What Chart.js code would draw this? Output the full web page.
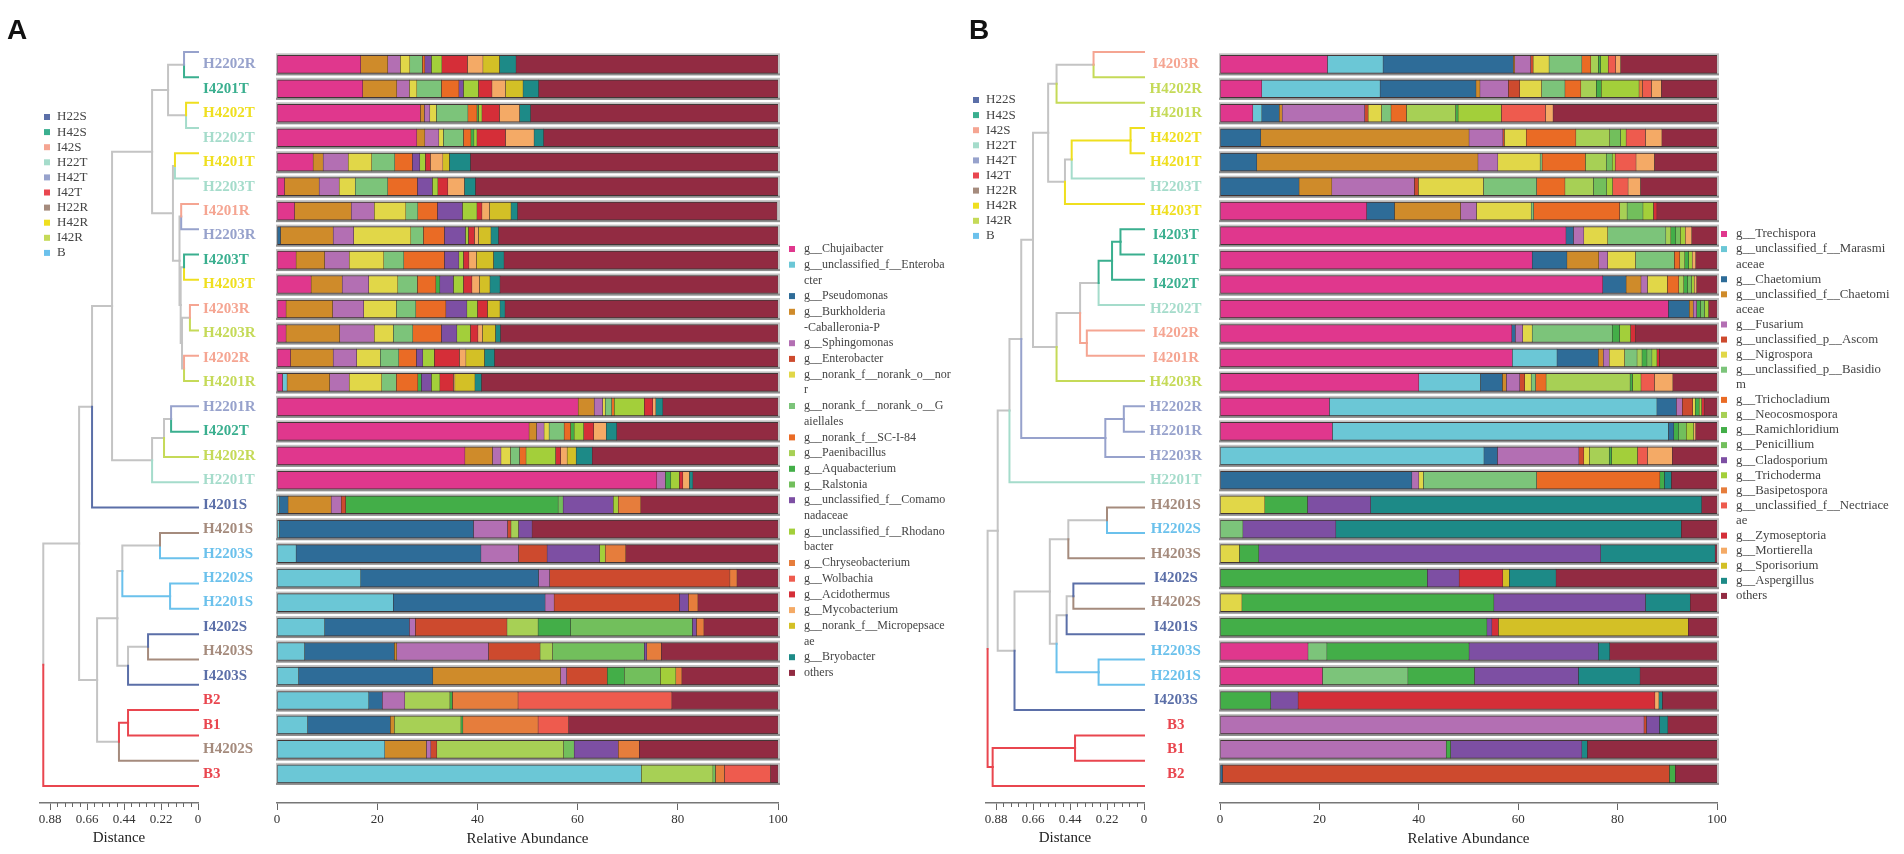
<!DOCTYPE html>
<html><head><meta charset="utf-8">
<script src="https://cdn.jsdelivr.net/npm/chart.js@4.4.1/dist/chart.umd.min.js"></script>
<style>
html,body{margin:0;padding:0;background:#fff;width:1904px;height:854px;overflow:hidden}
.box{position:absolute;top:0;height:854px}
canvas{display:block}
</style></head><body>
<div class="box" style="left:0px;width:206px"><canvas id="cdA"></canvas></div>
<div class="box" style="left:946px;width:206px"><canvas id="cdB"></canvas></div>
<div class="box" style="left:203px;width:762px"><canvas id="cbA"></canvas></div>
<div class="box" style="left:1140px;width:764px"><canvas id="cbB"></canvas></div>
<script>
// ---------------- colours ----------------
const GRAY = '#c4c4c4';
const C_lav='#97a2cc', C_teal='#3aaf8f', C_yel='#efdf1f', C_mint='#a5dccb', C_sal='#f5a592',
      C_yg='#c5da58', C_slate='#5b6fa8', C_taupe='#a58b7d', C_lblue='#6bc1ec', C_red='#e9464f';

// group legend
const groupNames  = ['H22S','H42S','I42S','H22T','H42T','I42T','H22R','H42R','I42R','B'];
const groupColors = [C_slate,C_teal,C_sal,C_mint,C_lav,C_red,C_taupe,C_yel,C_yg,C_lblue];

// genus colours (same palette in both panels)
const genusColors = ['#e0378d','#6bc7d6','#2e6c98','#cf8b2a','#b36fb3','#cd4a2e','#e1d748','#7cc47a',
  '#ea6b25','#a7d055','#43ae48','#72bf5c','#7d4fa3','#a3cf3a','#e67d3c','#ee5b4e','#d52e38',
  '#f4aa66','#d3c026','#1d8a87','#922b42'];

// ---------------- Panel A ----------------
const A_samples = ['H2202R','I4201T','H4202T','H2202T','H4201T','H2203T','I4201R','H2203R','I4203T','H4203T',
  'I4203R','H4203R','I4202R','H4201R','H2201R','I4202T','H4202R','H2201T','I4201S','H4201S','H2203S','H2202S',
  'H2201S','I4202S','H4203S','I4203S','B2','B1','H4202S','B3'];
const A_labelColors = [C_lav,C_teal,C_yel,C_mint,C_yel,C_mint,C_sal,C_lav,C_teal,C_yel,C_sal,C_yg,C_sal,C_yg,
  C_lav,C_teal,C_yg,C_mint,C_slate,C_taupe,C_lblue,C_lblue,C_lblue,C_slate,C_taupe,C_slate,C_red,C_red,C_taupe,C_red];
const A_genera = ['g__Chujaibacter','g__unclassified_f__Enteroba\ncter','g__Pseudomonas','g__Burkholderia\n-Caballeronia-P',
  'g__Sphingomonas','g__Enterobacter','g__norank_f__norank_o__nor\nr','g__norank_f__norank_o__G\naiellales',
  'g__norank_f__SC-I-84','g__Paenibacillus','g__Aquabacterium','g__Ralstonia','g__unclassified_f__Comamo\nnadaceae',
  'g__unclassified_f__Rhodano\nbacter','g__Chryseobacterium','g__Wolbachia','g__Acidothermus','g__Mycobacterium',
  'g__norank_f__Micropepsace\nae','g__Bryobacter','others'];
// tree merges: [node, childA, childB, distance]
const A_merges = [
  ['a1','H2202R','I4201T',0.083],['a2','H4202T','H2202T',0.071],['a3','a1','a2',0.178],
  ['a4','H4201T','H2203T',0.137],['a5','I4201R','H2203R',0.100],['a6','I4203T','H4203T',0.083],
  ['a7','I4203R','H4203R',0.048],['a8','I4202R','H4201R',0.083],['a9','a7','a8',0.095],
  ['a10','a6','a9',0.103],['a11','a5','a10',0.110],['a12','a4','a11',0.149],['a13','a3','a12',0.273],
  ['a14','H2201R','I4202T',0.160],['a15','a14','H4202R',0.202],['a16','a15','H2201T',0.273],
  ['a17','a13','a16',0.511],['a18','a17','I4201S',0.630],['a19','H4201S','H2203S',0.226],
  ['a20','H2202S','H2201S',0.166],['a21','a19','a20',0.450],['a22','I4202S','H4203S',0.297],
  ['a23','a22','I4203S',0.416],['a24','a21','a23',0.480],['a25','B2','B1',0.416],['a26','a25','H4202S',0.470],
  ['a27','a24','a26',0.600],['a28','a18','a27',0.707],['a29','a28','B3',0.920]];
// relative abundance per sample, in genus order above
const A_H2202R=[16.7,0,0,5.4,2.5,0,1.9,2.5,0.5,0,0,0,1.3,2.1,0,0,5.1,3.1,3.3,3.3,52.3];
const A_I4201T=[17.1,0,0,6.8,2.5,0,1.5,4.9,3.5,0,0,0,0.9,3.0,0,0,2.7,2.7,3.5,3.1,47.8];
const A_H4202T=[28.6,0,0,0.8,1.1,0,1.3,6.3,1.8,0,0.3,0,0,0.7,0,0,3.5,4.0,0,2.2,49.4];
const A_H2202T=[27.9,0,0,1.6,2.8,0,0.9,4.0,1.5,0,0.6,0,0,0.6,0,0,5.7,5.7,0,1.9,46.8];
const A_H4201T=[7.2,0,0,2.0,5.0,0,4.7,4.6,3.5,0,0,0,1.5,1.1,0,0,1.0,2.5,1.3,4.2,61.4];
const A_H2203T=[1.5,0,0,6.9,4.0,0,3.2,6.5,5.9,0,0,0,3.0,1.1,0,0,2.0,3.3,0,2.2,60.4];
const A_I4201R=[3.5,0,0,11.3,4.6,0,6.3,2.4,3.9,0,0,0,5.0,2.9,0,0,1.0,1.5,4.3,1.3,51.8];
const A_H2203R=[0,0,0.7,10.5,4.1,0,11.4,2.5,4.2,0,0,0,4.2,0.6,0,0,1.2,0.8,2.5,1.5,55.8];
const A_I4203T=[3.8,0,0,5.7,4.9,0,6.9,4.0,8.1,0,0,0,2.9,0.9,0,0,1.1,1.5,3.4,2.1,54.7];
const A_H4203T=[6.8,0,0,6.2,5.3,0,5.8,3.9,3.7,0,0.8,0,2.7,2.0,0,0,1.7,1.5,2.1,2.0,55.5];
const A_I4203R=[1.8,0,0,9.3,6.2,0,6.5,3.9,6.0,0,0,0,4.2,2.1,0,0,2.0,0,2.5,1.0,54.5];
const A_H4203R=[1.8,0,0,10.7,6.9,0,3.8,3.9,5.7,0,0,0,3.1,2.7,0,0,1.5,0.9,2.6,1.0,55.4];
const A_I4202R=[2.7,0,0,8.5,4.7,0,4.7,3.7,3.5,0,0,0,1.3,2.3,0,0,5.0,1.3,3.7,2.0,56.6];
const A_H4201R=[1.1,0.9,0,8.5,3.9,0,6.5,2.9,4.3,0,0.7,0,2.0,1.7,0,0,2.7,0.3,4.0,1.3,59.2];
const A_H2201R=[60.1,0,0,3.2,1.7,0,0.5,1.3,0.5,0,0,0,0,6.0,0,0,1.7,0.6,0,1.4,23.0];
const A_I4202T=[50.3,0,0,1.5,1.5,0,1.0,3.0,1.3,0,0.7,0,0,1.9,0,0,2.0,2.5,0,2.1,32.2];
const A_H4202R=[37.5,0,0,5.5,1.7,0,1.9,1.8,1.3,0,0,0,0,5.9,0,0,1.0,1.3,1.8,3.2,37.1];
const A_H2201T=[75.8,0,0,0,1.7,0,0,0,0,0,1.1,0,0,1.7,0,0,0.7,1.3,0,0.7,17.0];
const A_I4201S=[0,0.5,1.7,8.6,2.0,0.9,0,0,0,0,42.4,1.0,10.0,1.0,4.5,0,0,0,0,0,27.4];
const A_H4201S=[0,0.5,38.7,0,6.8,0.7,0,0,0,1.5,0,0,2.7,0,0,0,0,0,0,0,49.1];
const A_H2203S=[0,3.8,36.9,0,7.5,5.7,0,0,0,0,0,0,10.5,1.1,4.1,0,0,0,0,0,30.4];
const A_H2202S=[0,16.7,35.5,0,2.2,36.0,0,0,0,0,0,0,0,0,1.4,0,0,0,0,0,8.2];
const A_H2201S=[0,23.2,30.3,0,1.8,25.0,0,0,0,0,0,0,1.8,0,1.9,0,0,0,0,0,16.0];
const A_I4202S=[0,9.5,16.9,0,1.2,18.3,0,0,0,6.2,6.5,24.3,0.8,0,1.5,0,0,0,0,0,14.8];
const A_H4203S=[0,5.5,17.9,0.5,18.3,10.3,0,0,0,2.5,0,18.3,0.5,0,2.9,0,0,0,0,0,23.3];
const A_I4203S=[0,4.3,26.8,25.5,1.2,8.1,0,0,0,0,3.4,7.2,0,3.1,1.2,0,0,0,0,0,19.2];
const A_B2    =[0,18.3,2.7,0,4.5,0,0,0,0,9.0,0.5,0,0,0,13.1,30.7,0,0,0,0,21.2];
const A_B1    =[0,6.1,16.5,0.8,0,0,0,0,0,13.3,0.4,0,0,0,15.0,6.1,0,0,0,0,41.8];
const A_H4202S=[0,21.5,0,8.3,0.9,1.2,0,0,0,25.3,0,2.1,8.8,0,4.2,0,0,0,0,0,27.7];
const A_B3    =[0,72.7,0,0,0,0,0,0,0,14.3,0,0.5,0,0,1.8,9.2,0,0,0,0,1.5];
const A_rows=[A_H2202R,A_I4201T,A_H4202T,A_H2202T,A_H4201T,A_H2203T,A_I4201R,A_H2203R,A_I4203T,A_H4203T,
  A_I4203R,A_H4203R,A_I4202R,A_H4201R,A_H2201R,A_I4202T,A_H4202R,A_H2201T,A_I4201S,A_H4201S,A_H2203S,A_H2202S,
  A_H2201S,A_I4202S,A_H4203S,A_I4203S,A_B2,A_B1,A_H4202S,A_B3];

// ---------------- Panel B ----------------
const B_samples = ['I4203R','H4202R','H4201R','H4202T','H4201T','H2203T','H4203T','I4203T','I4201T','I4202T',
  'H2202T','I4202R','I4201R','H4203R','H2202R','H2201R','H2203R','H2201T','H4201S','H2202S','H4203S','I4202S',
  'H4202S','I4201S','H2203S','H2201S','I4203S','B3','B1','B2'];
const B_labelColors = [C_sal,C_yg,C_yg,C_yel,C_yel,C_mint,C_yel,C_teal,C_teal,C_teal,C_mint,C_sal,C_sal,C_yg,
  C_lav,C_lav,C_lav,C_mint,C_taupe,C_lblue,C_taupe,C_slate,C_taupe,C_slate,C_lblue,C_lblue,C_slate,C_red,C_red,C_red];
const B_genera = ['g__Trechispora','g__unclassified_f__Marasmi\naceae','g__Chaetomium','g__unclassified_f__Chaetomi\naceae',
  'g__Fusarium','g__unclassified_p__Ascom','g__Nigrospora','g__unclassified_p__Basidio\nm','g__Trichocladium',
  'g__Neocosmospora','g__Ramichloridium','g__Penicillium','g__Cladosporium','g__Trichoderma','g__Basipetospora',
  'g__unclassified_f__Nectriace\nae','g__Zymoseptoria','g__Mortierella','g__Sporisorium','g__Aspergillus','others'];
const B_merges = [
  ['b1','I4203R','H4202R',0.30],['b2','b1','H4201R',0.52],['b3','H4202T','H4201T',0.08],['b4','b3','H2203T',0.43],
  ['b5','b4','H4203T',0.47],['b6','b2','b5',0.57],['b7','I4203T','I4201T',0.14],['b8','b7','I4202T',0.19],
  ['b9','b8','H2202T',0.27],['b10','I4202R','I4201R',0.34],['b11','b9','b10',0.38],['b12','b11','H4203R',0.52],
  ['b13','b6','b12',0.66],['b14','H2202R','H2201R',0.12],['b15','b14','H2203R',0.23],['b16','b13','b15',0.73],
  ['b17','b16','H2201T',0.80],['b18','H4201S','H2202S',0.22],['b19','b18','H4203S',0.45],['b20','I4202S','H4202S',0.42],
  ['b21','b20','I4201S',0.46],['b22','H2203S','H2201S',0.27],['b23','b21','b22',0.52],['b24','b19','b23',0.56],
  ['b25','b24','I4203S',0.77],['b26','b17','b25',0.87],['b27','B3','B1',0.41],['b28','b27','B2',0.90],['b29','b26','b28',0.93]];
const B_I4203R=[21.6,11.2,26.2,0.3,3.2,0.5,3.2,6.6,1.8,1.5,0.5,0,0,1.5,0,1.5,0,1.0,0,0,19.4];
const B_H4202R=[8.4,23.8,19.3,0.8,5.7,2.3,4.4,4.7,3.2,3.1,1.0,0,0,7.6,0.7,1.8,0,2.0,0,0,11.2];
const B_H4201R=[6.6,1.8,3.5,0.6,16.6,0.7,2.7,1.9,3.1,9.9,0.5,0,0,8.7,0,8.9,0,1.5,0,0,33.0];
const B_H4202T=[0,0,8.2,41.9,6.8,0.3,4.4,0,10.0,6.8,0,2.2,0,1.1,0,3.9,0,3.3,0,0,11.1];
const B_H4201T=[0,0,7.4,44.5,4.0,0,8.5,0.4,8.7,4.2,0,1.2,0,0.6,0,4.2,0,3.7,0,0,12.6];
const B_H2203T=[0,0,15.9,6.6,16.6,0.8,13.1,10.7,5.7,5.7,0,2.7,0,1.2,0,3.1,0,2.5,0,0,15.4];
const B_H4203T=[29.5,0,5.6,13.3,3.2,0,11.0,0.5,17.3,1.5,0,3.2,0,2.1,0,0,0.7,0,0,0,12.1];
const B_I4203T=[69.6,0,1.5,0,2.1,0,4.8,11.7,0,1.0,1.0,0.9,0,1.0,0,0,0,1.3,0,0,5.1];
const B_I4201T=[62.8,0,7.0,6.4,1.8,0,5.6,7.8,1.1,1.0,0.8,0,0,0.7,0,0,0,0.7,0,0,4.3];
const B_I4202T=[77.0,0,4.7,3.0,1.3,0,4.0,0,2.3,1.0,0.8,0.8,0,0.5,0,0,0,0.5,0,0,4.1];
const B_H2202T=[90.2,0,4.2,0.8,0.7,0,0,0,0,0,0.8,0.8,0,0.8,0,0,0,0,0,0,1.7];
const B_I4202R=[58.7,0,0.7,0,1.5,0,1.9,16.1,0,0,1.5,0,0,2.2,0,0,1.0,0,0,0,16.4];
const B_I4201R=[58.8,9.0,8.3,1.0,1.2,0,3.1,2.5,0,1.0,1.0,1.0,0,1.0,0,0,0.5,0,0,0,11.6];
const B_H4203R=[40.0,12.4,4.4,0.8,2.7,1.0,1.3,0.9,2.1,16.9,0.5,0,0,1.7,0,2.7,0,3.7,0,0,8.9];
const B_H2202R=[22.0,65.9,3.9,0,1.2,2.1,0.5,0,0,0,0.8,0,0,0.5,0,0,0.5,0,0,0,2.6];
const B_H2201R=[22.6,67.6,1.1,0,0,0,0,0,0,0,1.0,1.5,0,1.5,0,0,0,0.4,0,0,4.3];
const B_H2203R=[0,53.1,2.7,0,16.4,1.0,1.1,0,0,4.0,0.5,0,0,5.2,0,2.0,0,5.0,0,0,9.0];
const B_H2201T=[0,0,38.6,0,1.4,0,0.9,22.8,24.8,0,0.9,0,0,0,0,0,0,0,0,1.4,9.2];
const B_H4201S=[0,0,0,0,0,0,9.0,0,0,0,8.6,0,12.7,0,0,0,0,0,0,66.6,3.1];
const B_H2202S=[0,0,0,0,0,0,0,4.6,0,0,0,0,18.7,0,0,0,0,0,0,69.5,7.2];
const B_H4203S=[0,0,0,0,0,0,3.9,0,0,0,3.9,0,68.8,0,0,0,0,0,0,23.0,0.4];
const B_I4202S=[0,0,0,0,0,0,0,0,0,0,41.7,0,6.4,0,0,0,8.8,0,1.3,9.4,32.4];
const B_H4202S=[0,0,0,0,0,0,4.4,0,0,0,50.7,0,30.5,0,0,0,0,0,0,9.0,5.4];
const B_I4201S=[0,0,0,0,0,0,0,0,0,0,53.7,0,1.0,0,0,0,1.3,0,38.2,0,5.8];
const B_H2203S=[17.7,0,0,0,0,0,0,3.8,0,0,28.6,0,26.0,0,0,0,0,0,0,2.3,21.6];
const B_H2201S=[20.6,0,0,0,0,0,0,17.2,0,0,13.4,0,20.9,0,0,0,0,0,0,12.4,15.5];
const B_I4203S=[0,0,0,0,0,0,0,0,0,0,10.2,0,5.5,0,0,0,71.8,0.8,0,0.7,11.0];
const B_B3    =[0,0,0,0,85.3,0.5,0,0,0,0,0,0,2.6,0,0,0,0,0,0,1.7,9.9];
const B_B1    =[0,0,0,0,45.5,0,0,0,0,0,0.9,0,26.4,0,0,0,0,0,0,1.1,26.1];
const B_B2    =[0,0,0.5,0,0,89.9,0,0,0,0,1.2,0,0,0,0,0,0,0,0,0,8.4];
const B_rows=[B_I4203R,B_H4202R,B_H4201R,B_H4202T,B_H4201T,B_H2203T,B_H4203T,B_I4203T,B_I4201T,B_I4202T,
  B_H2202T,B_I4202R,B_I4201R,B_H4203R,B_H2202R,B_H2201R,B_H2203R,B_H2201T,B_H4201S,B_H2202S,B_H4203S,B_I4202S,
  B_H4202S,B_I4201S,B_H2203S,B_H2201S,B_I4203S,B_B3,B_B1,B_B2];

const distTicks = [0.88,0.66,0.44,0.22,0];
const pctTicks = [0,20,40,60,80,100];

// ---------------- common layout ----------------
Chart.defaults.font.family = "'Liberation Serif','Times New Roman',serif";
Chart.defaults.color = '#333';
Chart.defaults.animation = false;
const TOP = 39.35, YMAX = 29.67, XAXIS_H = 51, DMAX = 0.9395;
const SERIF = "'Liberation Serif','Times New Roman',serif";

function dendroChart(id, offX, samples, colors, merges, letter, letterX, legX, legY0) {
  const pos = {};
  samples.forEach((s,i)=>{ pos[s] = {y:i, d:0, c:colors[i]}; });
  merges.forEach(m=>{ const a=pos[m[1]], b=pos[m[2]];
    pos[m[0]] = {y:(a.y+b.y)/2, d:m[3], c:(a.c===b.c?a.c:GRAY)}; });
  const colored=[], grey=[];
  merges.forEach(m=>{ const p=pos[m[0]];
    [m[1],m[2]].forEach(k=>{ const ch=pos[k];
      const ds={data:[{x:p.d,y:p.y},{x:p.d,y:ch.y},{x:ch.d,y:ch.y}], borderColor:ch.c, borderWidth:2,
        showLine:true, pointRadius:0, fill:false, tension:0, clip:false, borderCapStyle:'square', borderJoinStyle:'miter'};
      (ch.c===GRAY?grey:colored).push(ds); }); });
  const extras = {id:'extras', afterDraw(chart){
    const ctx=chart.ctx, s=chart.scales.x; ctx.save();
    ctx.strokeStyle='#666'; ctx.lineWidth=1;
    for (let k=0;k<=20;k++){ if(k%5===0) continue; const px=Math.round(s.getPixelForValue(k*0.044))+0.5;
      ctx.beginPath(); ctx.moveTo(px,s.top); ctx.lineTo(px,s.top+4); ctx.stroke(); }
    ctx.fillStyle='#111'; ctx.font="bold 28px 'Liberation Sans',Arial,sans-serif"; ctx.textBaseline='alphabetic';
    ctx.fillText(letter, letterX-offX, 39);
    ctx.font="13px "+SERIF; ctx.textBaseline='middle';
    groupNames.forEach((g,i)=>{ const y=legY0+i*15.1; ctx.fillStyle=groupColors[i];
      ctx.fillRect(legX-offX, y-3, 6, 6); ctx.fillStyle='#444';
      ctx.fillText(g, legX+13-offX, y); });
    ctx.restore(); }};
  return new Chart(document.getElementById(id), {
    type:'scatter',
    data:{datasets: colored.concat(grey)},
    options:{responsive:true, maintainAspectRatio:false, animation:false,
      layout:{padding:{top:TOP,left:40,right:8,bottom:0}},
      plugins:{legend:{display:false}, tooltip:{enabled:false}},
      scales:{
        x:{type:'linear', reverse:true, min:0, max:DMAX, position:'bottom',
          afterBuildTicks:s=>{ s.ticks = distTicks.map(v=>({value:v})); },
          afterFit:s=>{ s.height = XAXIS_H; },
          ticks:{callback:v=> v===0?'0':v.toFixed(2), font:{size:13, family:SERIF}, color:'#333', padding:2, maxRotation:0, autoSkip:false},
          grid:{display:true, drawOnChartArea:false, drawTicks:true, tickLength:7, color:'#666', lineWidth:1},
          border:{display:true, color:'#777', width:1.5},
          title:{display:true, text:'Distance', font:{size:15, family:SERIF}, color:'#222', padding:{top:0,bottom:7}}},
        y:{type:'linear', min:-0.5, max:YMAX, reverse:true, display:false}
      }},
    plugins:[extras]
  });
}

function barChart(id, offX, samples, colors, rows, genera, plotLeft, plotRight, boxW, align, tickPad, legSqX, legTxtX, legY0, legDy, legFont) {
  const datasets = genera.map((g,gi)=>({
    label:g.replace('\n',''),
    data: rows.map((r,j)=>({x:r[gi], y:j})),
    backgroundColor: genusColors[gi],
    borderColor:'rgba(45,30,30,0.85)',
    borderWidth:{top:1,bottom:1,left:0.5,right:0.5},
    borderSkipped:false,
    barThickness:18
  }));
  const frame = {id:'frame', beforeDatasetsDraw(chart){
    const ctx=chart.ctx, xs=chart.scales.x, ys=chart.scales.y; ctx.save();
    const x0=xs.getPixelForValue(0), x1=xs.getPixelForValue(100);
    rows.forEach((r,j)=>{ const y=ys.getPixelForValue(j);
      ctx.fillStyle='#c2c2c2'; ctx.fillRect(x0-1, y-11, x1-x0+3, 22);
      ctx.fillStyle='#8e8e8e'; ctx.fillRect(x0-1, y+9, x1-x0+3, 2); });
    ctx.restore(); }};
  const legend = {id:'legendx', afterDraw(chart){
    const ctx=chart.ctx; ctx.save(); ctx.font=legFont+'px '+SERIF; ctx.textBaseline='middle';
    let y=legY0;
    genera.forEach((g,i)=>{ ctx.fillStyle=genusColors[i]; ctx.fillRect(legSqX-offX-3, y-3, 6, 6);
      ctx.fillStyle='#444'; g.split('\n').forEach(line=>{ ctx.fillText(line, legTxtX-offX, y); y+=legDy; }); });
    ctx.restore(); }};
  return new Chart(document.getElementById(id), {
    type:'bar',
    data:{datasets},
    options:{indexAxis:'y', responsive:true, maintainAspectRatio:false, animation:false,
      layout:{padding:{top:TOP, left:0, right:boxW-(plotRight-offX), bottom:0}},
      plugins:{legend:{display:false}, tooltip:{enabled:false}},
      scales:{
        x:{type:'linear', min:0, max:100, stacked:true, position:'bottom',
          afterBuildTicks:s=>{ s.ticks = pctTicks.map(v=>({value:v})); },
          afterFit:s=>{ s.height = XAXIS_H; },
          ticks:{font:{size:13, family:SERIF}, color:'#333', padding:2, maxRotation:0},
          grid:{display:true, drawOnChartArea:false, drawTicks:true, tickLength:7, color:'#666'},
          border:{display:true, color:'#777', width:1.5},
          title:{display:true, text:'Relative Abundance', font:{size:15, family:SERIF}, color:'#222', padding:{top:0,bottom:6}}},
        y:{type:'linear', min:-0.5, max:YMAX, reverse:true, stacked:true, position:'left',
          afterBuildTicks:s=>{ s.ticks = samples.map((_,i)=>({value:i})); },
          afterFit:s=>{ s.width = plotLeft-offX; },
          ticks:{autoSkip:false, callback:(v)=>samples[v], color:(c)=>colors[c.index],
            font:{size:15, weight:'bold', family:SERIF}, crossAlign:align, padding:tickPad},
          grid:{display:false, drawTicks:false}, border:{display:false}}
      }},
    plugins:[frame, legend]
  });
}

dendroChart('cdA', 0, A_samples, A_labelColors, A_merges, 'A', 7, 44, 117);
barChart('cbA', 203, A_samples, A_labelColors, A_rows, A_genera, 277, 778, 762, 'far', 2, 792, 804, 249, 15.7, 12);
dendroChart('cdB', 946, B_samples, B_labelColors, B_merges, 'B', 969, 973, 100);
barChart('cbB', 1140, B_samples, B_labelColors, B_rows, B_genera, 1220, 1717, 764, 'center', 18, 1724, 1736, 234, 15.08, 12.8);
</script>
</body></html>
